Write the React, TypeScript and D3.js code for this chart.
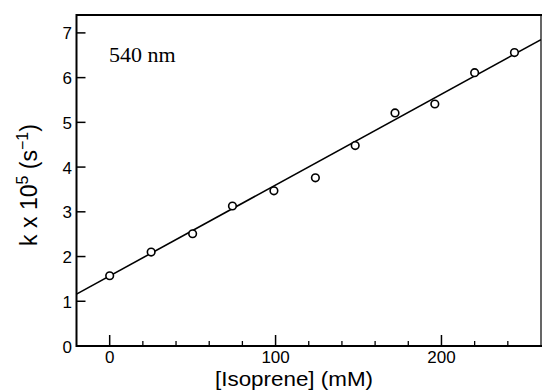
import React from "react";
import * as d3 from "d3";

const conc = [0, 25, 50, 74, 99, 124, 148, 172, 196, 220, 244];
const rate = [1.57, 2.1, 2.51, 3.13, 3.47, 3.76, 4.48, 5.21, 5.41, 6.11, 6.56];
const fitX = [-20, 260];
const fitY = [1.16, 6.85];
const xMajor = [0, 100, 200];
const xMinor = [20, 40, 60, 80, 120, 140, 160, 180, 220, 240];
const yTicks = [0, 1, 2, 3, 4, 5, 6, 7];

const W = 542;
const H = 390;
const sans = "'Liberation Sans', Arial, Helvetica, sans-serif";
const serif = "'Liberation Serif', 'Times New Roman', serif";

export default function App() {
  const left = 76.5, right = 541, top = 15, bottom = 346;
  const x = d3.scaleLinear().domain([-20, 260]).range([left, right]);
  const y = d3.scaleLinear().domain([0, 7.4]).range([bottom, top]);
  const line = d3
    .line<number>()
    .x((_, i) => x(fitX[i]))
    .y((d) => y(d));

  return (
    <svg
      width={W}
      height={H}
      style={{ position: "absolute", left: 0, top: 0, background: "#fff" }}
    >
      <defs>
        <clipPath id="plot">
          <rect x={left} y={top} width={right - left} height={bottom - top} />
        </clipPath>
      </defs>
      {/* frame */}
      <line x1={left} x2={right + 1} y1={top} y2={top} stroke="#000" strokeWidth={2} />
      <line x1={right} x2={right} y1={top} y2={bottom} stroke="#000" strokeWidth={1.2} />
      <line x1={left} x2={right + 1} y1={bottom} y2={bottom} stroke="#000" strokeWidth={2} />
      <line x1={left} x2={left} y1={top - 1} y2={bottom + 1} stroke="#000" strokeWidth={2} />

      {/* y ticks */}
      {yTicks.map((t) => (
        <g key={"y" + t}>
          {t > 0 && (
            <line x1={left} x2={left + 9} y1={y(t)} y2={y(t)} stroke="#000" strokeWidth={1.5} />
          )}
          <text
            x={72}
            y={y(t) + 1}
            textAnchor="end"
            dominantBaseline="central"
            fontFamily={sans}
            fontSize={17}
          >
            {t}
          </text>
        </g>
      ))}

      {/* x ticks */}
      {xMajor.map((t) => (
        <g key={"xm" + t}>
          <line x1={x(t)} x2={x(t)} y1={bottom} y2={bottom - 11} stroke="#000" strokeWidth={1.5} />
          <text x={x(t)} y={363} textAnchor="middle" fontFamily={sans} fontSize={17}>
            {t}
          </text>
        </g>
      ))}
      {xMinor.map((t) => (
        <line key={"xn" + t} x1={x(t)} x2={x(t)} y1={bottom} y2={bottom - 5} stroke="#000" strokeWidth={1.3} />
      ))}

      {/* fit line */}
      <path d={line(fitY) || ""} fill="none" stroke="#000" strokeWidth={1.6} clipPath="url(#plot)" />

      {/* points */}
      {conc.map((c, i) => (
        <circle key={"p" + i} cx={x(c)} cy={y(rate[i])} r={3.8} fill="#fff" stroke="#000" strokeWidth={1.6} />
      ))}

      {/* annotation */}
      <text x={109} y={62} fontFamily={serif} fontSize={22}>
        540 nm
      </text>

      {/* x label */}
      <text
        x={294}
        y={386}
        textAnchor="middle"
        fontFamily={sans}
        fontSize={21}
        textLength={158}
        lengthAdjust="spacingAndGlyphs"
      >
        [Isoprene] (mM)
      </text>

      {/* y label */}
      <text
        transform="translate(37,185) rotate(-90)"
        textAnchor="middle"
        fontFamily={sans}
        fontSize={23}
      >
        k x 10
        <tspan fontSize={16} dy={-9}>5</tspan>
        <tspan dy={9}> (s</tspan>
        <tspan fontSize={16} dy={-9}>−1</tspan>
        <tspan dy={9}>)</tspan>
      </text>
    </svg>
  );
}
